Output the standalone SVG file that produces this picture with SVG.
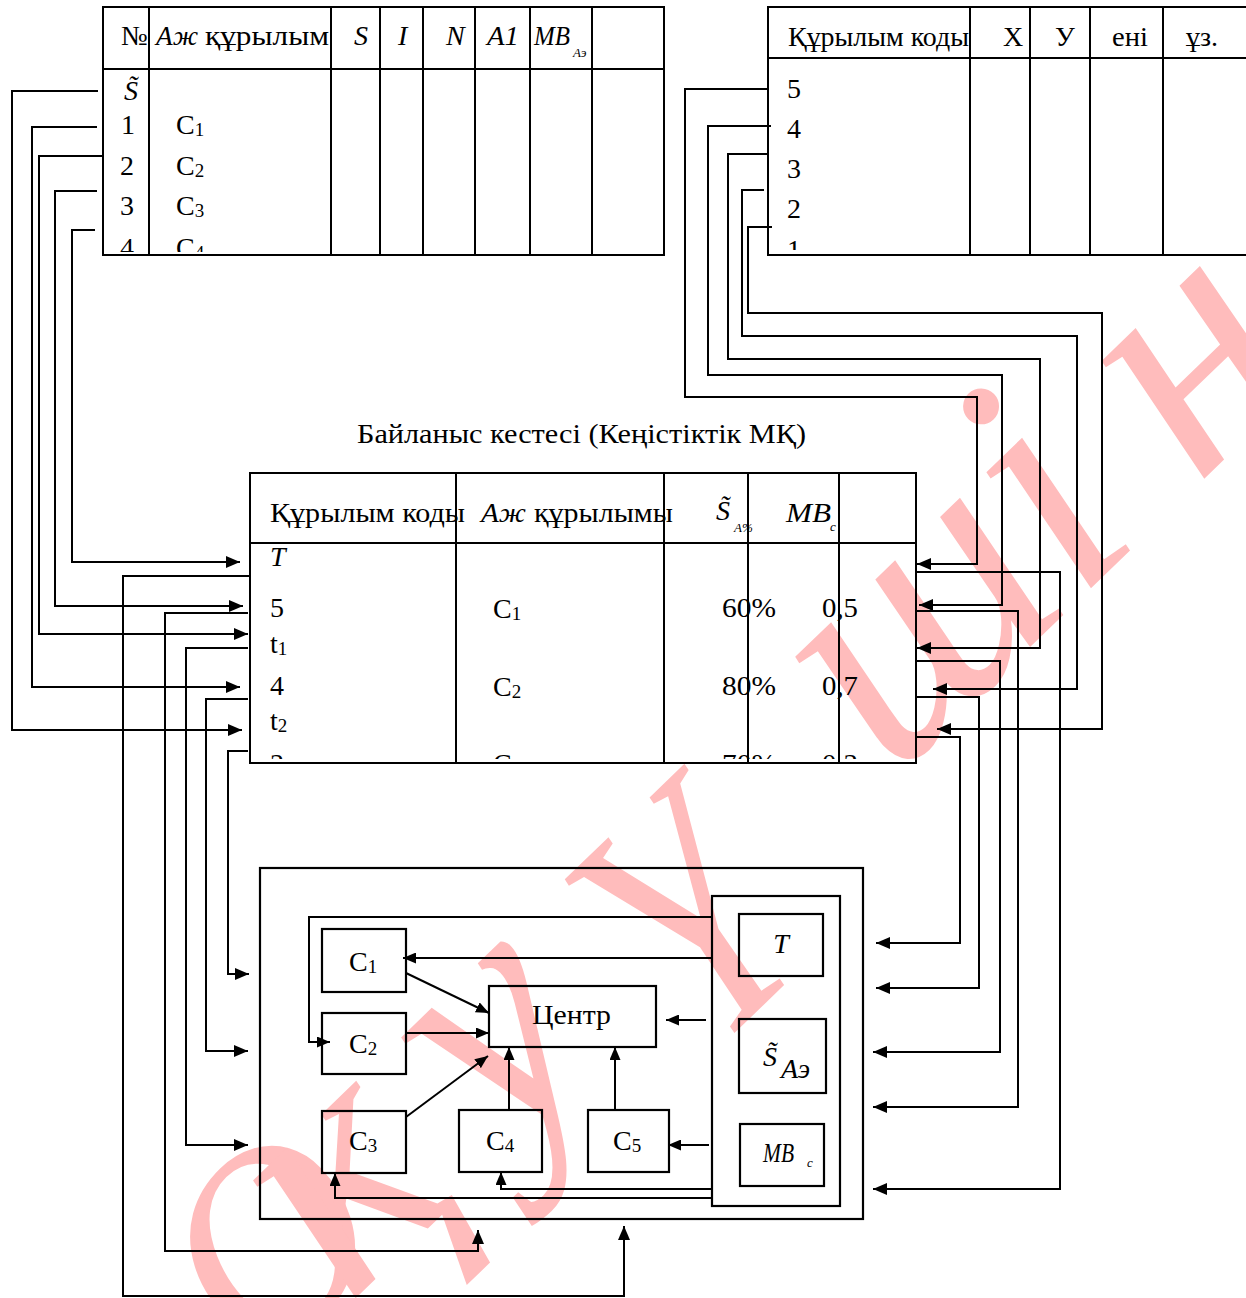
<svg xmlns="http://www.w3.org/2000/svg" width="1246" height="1298" viewBox="0 0 1246 1298">
<style>
.ln{fill:none;stroke:#000;stroke-width:2}
.bx{fill:none;stroke:#000;stroke-width:2.2}
.t{font-family:"Liberation Serif","Times New Roman",serif;font-size:28px;fill:#000}
.i{font-style:italic}
.sm{font-size:19px}
.xs{font-size:13px}
.wm{font-family:"Liberation Serif","Times New Roman",serif;font-style:italic;font-size:340px;fill:#ffbcbc}
</style>
<defs>
<marker id="ah" viewBox="0 0 14 12" refX="14" refY="6" markerWidth="14" markerHeight="12" markerUnits="userSpaceOnUse" orient="auto"><path d="M0,0 L14,6 L0,12 Z" fill="#000"/></marker>
<marker id="as" viewBox="0 0 13 11" refX="13" refY="5.5" markerWidth="13" markerHeight="11" markerUnits="userSpaceOnUse" orient="auto"><path d="M0,0 L13,5.5 L0,11 Z" fill="#000"/></marker>
<clipPath id="cl1"><rect x="103" y="69" width="561" height="183"/></clipPath>
<clipPath id="cl2"><rect x="768" y="58" width="478" height="192"/></clipPath>
<clipPath id="cl3"><rect x="250" y="543" width="666" height="216"/></clipPath>
</defs>
<rect width="1246" height="1298" fill="#fff"/>

<g id="watermark">
<text class="wm" transform="translate(272,1240) rotate(-44)"><tspan x="-100" y="88" font-size="265">О</tspan><tspan x="10 225 376 448 766 1023 1188" y="100">қу үшін</tspan></text>
</g>

<g id="table-params">
<rect class="ln" x="103" y="7" width="561" height="248"/>
<path class="ln" d="M103,69 H664 M149,7 V255 M331,7 V255 M380,7 V255 M423,7 V255 M475,7 V255 M530,7 V255 M592,7 V255"/>
<text class="t" x="121" y="45">№</text>
<text class="t i" x="156" y="45" textLength="42" lengthAdjust="spacingAndGlyphs">Аж</text>
<text class="t" x="205" y="45" textLength="124" lengthAdjust="spacingAndGlyphs">құрылым</text>
<text class="t i" x="354" y="45">S</text>
<text class="t i" x="398" y="45">I</text>
<text class="t i" x="446" y="45">N</text>
<text class="t i" x="487" y="45" textLength="32" lengthAdjust="spacingAndGlyphs">A1</text>
<text class="t i" x="534" y="45" textLength="36" lengthAdjust="spacingAndGlyphs">MB</text>
<text class="t i xs" x="573" y="57">Аэ</text>
<g clip-path="url(#cl1)">
<text class="t i" x="124" y="100">S̃</text>
<text class="t" x="121" y="134">1</text>
<text class="t" x="176" y="134">C<tspan class="sm" dy="2">1</tspan></text>
<text class="t" x="120" y="175">2</text>
<text class="t" x="176" y="175">C<tspan class="sm" dy="2">2</tspan></text>
<text class="t" x="120" y="215">3</text>
<text class="t" x="176" y="215">C<tspan class="sm" dy="2">3</tspan></text>
<text class="t" x="120" y="257">4</text>
<text class="t" x="176" y="257">C<tspan class="sm" dy="2">4</tspan></text>
</g>
</g>

<g id="table-coords">
<rect class="ln" x="768" y="7" width="500" height="248"/>
<path class="ln" d="M768,58 H1246 M970,7 V255 M1030,7 V255 M1090,7 V255 M1163,7 V255"/>
<text class="t" x="788" y="46" textLength="181" lengthAdjust="spacingAndGlyphs">Құрылым коды</text>
<text class="t" x="1003" y="46">X</text>
<text class="t" x="1055" y="46">У</text>
<text class="t" x="1112" y="46" textLength="36" lengthAdjust="spacingAndGlyphs">ені</text>
<text class="t" x="1186" y="46" textLength="32" lengthAdjust="spacingAndGlyphs">ұз.</text>
<g clip-path="url(#cl2)">
<text class="t" x="787" y="98">5</text>
<text class="t" x="787" y="138">4</text>
<text class="t" x="787" y="178">3</text>
<text class="t" x="787" y="218">2</text>
<text class="t" x="787" y="259">1</text>
</g>
</g>

<g id="caption">
<text class="t" x="357" y="443" textLength="449" lengthAdjust="spacingAndGlyphs">Байланыс кестесі (Кеңістіктік МҚ)</text>
</g>

<g id="table-link">
<rect class="ln" x="250" y="473" width="666" height="290"/>
<path class="ln" d="M250,543 H916 M456,473 V763 M664,473 V763 M748,473 V763 M839,473 V763"/>
<text class="t" x="270" y="522" textLength="195" lengthAdjust="spacingAndGlyphs">Құрылым коды</text>
<text class="t i" x="481" y="522" textLength="45" lengthAdjust="spacingAndGlyphs">Аж</text>
<text class="t" x="534" y="522" textLength="139" lengthAdjust="spacingAndGlyphs">құрылымы</text>
<text class="t i" x="716" y="520" font-size="32">S̃</text>
<text class="t i xs" x="734" y="532">A%</text>
<text class="t i" x="786" y="522" font-size="27" textLength="45" lengthAdjust="spacingAndGlyphs">MB</text>
<text class="t i xs" x="830" y="531">c</text>
<g clip-path="url(#cl3)">
<text class="t i" x="270" y="566">T</text>
<text class="t" x="270" y="617">5</text>
<text class="t" x="270" y="653">t<tspan class="sm" dy="2">1</tspan></text>
<text class="t" x="270" y="695">4</text>
<text class="t" x="270" y="730">t<tspan class="sm" dy="2">2</tspan></text>
<text class="t" x="270" y="773">3</text>
<text class="t" x="493" y="618">C<tspan class="sm" dy="2">1</tspan></text>
<text class="t" x="493" y="696">C<tspan class="sm" dy="2">2</tspan></text>
<text class="t" x="493" y="773">C<tspan class="sm" dy="2">3</tspan></text>
<text class="t" x="722" y="617" textLength="54" lengthAdjust="spacingAndGlyphs">60%</text>
<text class="t" x="722" y="695" textLength="54" lengthAdjust="spacingAndGlyphs">80%</text>
<text class="t" x="722" y="773" textLength="54" lengthAdjust="spacingAndGlyphs">70%</text>
<text class="t" x="822" y="617" textLength="36" lengthAdjust="spacingAndGlyphs">0,5</text>
<text class="t" x="822" y="695" textLength="36" lengthAdjust="spacingAndGlyphs">0,7</text>
<text class="t" x="822" y="773" textLength="36" lengthAdjust="spacingAndGlyphs">0,3</text>
</g>
</g>

<g id="system">
<rect class="bx" x="260" y="868" width="603" height="351"/>
<g id="panel"><rect class="bx" x="712" y="896" width="128" height="310"/></g>
<g id="node-T"><rect class="bx" x="739" y="914" width="84" height="62"/><text class="t i" x="781" y="953" text-anchor="middle">T</text></g>
<g id="node-S"><rect class="bx" x="739" y="1019" width="87" height="74"/><text class="t i" x="763" y="1066" font-size="31">S̃</text><text class="t i" x="781" y="1078" font-size="14">Аэ</text></g>
<g id="node-MB"><rect class="bx" x="740" y="1124" width="84" height="62"/><text class="t i" x="763" y="1162" font-size="24" textLength="31" lengthAdjust="spacingAndGlyphs">MB</text><text class="t i xs" x="807" y="1167">c</text></g>
<g id="node-C1"><rect class="bx" x="322" y="929" width="84" height="63"/><text class="t" x="349" y="971">C<tspan class="sm" dy="2">1</tspan></text></g>
<g id="node-C2"><rect class="bx" x="322" y="1013" width="84" height="61"/><text class="t" x="349" y="1053">C<tspan class="sm" dy="2">2</tspan></text></g>
<g id="node-C3"><rect class="bx" x="322" y="1111" width="84" height="62"/><text class="t" x="349" y="1150">C<tspan class="sm" dy="2">3</tspan></text></g>
<g id="node-C4"><rect class="bx" x="459" y="1110" width="83" height="62"/><text class="t" x="486" y="1150">C<tspan class="sm" dy="2">4</tspan></text></g>
<g id="node-C5"><rect class="bx" x="588" y="1110" width="81" height="62"/><text class="t" x="613" y="1150">C<tspan class="sm" dy="2">5</tspan></text></g>
<g id="node-center"><rect class="bx" x="489" y="986" width="167" height="61"/><text class="t" x="532" y="1024" textLength="79" lengthAdjust="spacingAndGlyphs">Центр</text></g>
</g>

<g id="connectors" class="ln">
<path d="M98,91 H12 V730 H242" marker-end="url(#ah)"/>
<path d="M97,127 H32 V687 H240" marker-end="url(#ah)"/>
<path d="M102,156 H39 V634 H248" marker-end="url(#ah)"/>
<path d="M97,191 H55 V606 H243" marker-end="url(#ah)"/>
<path d="M95,230 H72 V562 H240" marker-end="url(#ah)"/>
<path d="M768,89 H685 V397 H977 V564 H917" marker-end="url(#ah)"/>
<path d="M771,126 H708 V375 H1002 V605 H919" marker-end="url(#ah)"/>
<path d="M768,154 H728 V359 H1040 V648 H917" marker-end="url(#ah)"/>
<path d="M764,190 H742 V336 H1077 V689 H933" marker-end="url(#ah)"/>
<path d="M772,227 H748 V313 H1102 V729 H937" marker-end="url(#ah)"/>
<path d="M250,576 H123 V1296 H624 V1226" marker-end="url(#ah)"/>
<path d="M248,613 H165 V1251 H478 V1230" marker-end="url(#ah)"/>
<path d="M248,648 H186 V1145 H248" marker-end="url(#ah)"/>
<path d="M248,699 H206 V1051 H248" marker-end="url(#ah)"/>
<path d="M248,751 H228 V974 H249" marker-end="url(#ah)"/>
<path d="M916,572 H1060 V1189 H873" marker-end="url(#ah)"/>
<path d="M916,611 H1018 V1107 H873" marker-end="url(#ah)"/>
<path d="M916,661 H1000 V1052 H873" marker-end="url(#ah)"/>
<path d="M916,697 H979 V988 H876" marker-end="url(#ah)"/>
<path d="M916,737 H960 V943 H876" marker-end="url(#ah)"/>
<path d="M712,917 H309 V1042 H330" marker-end="url(#as)"/>
<path d="M712,958 H403" marker-end="url(#as)"/>
<path d="M406,973 L489,1013" marker-end="url(#as)"/>
<path d="M406,1033 H489" marker-end="url(#as)"/>
<path d="M406,1117 L488,1056" marker-end="url(#as)"/>
<path d="M509,1110 V1047" marker-end="url(#as)"/>
<path d="M615,1110 V1047" marker-end="url(#as)"/>
<path d="M706,1020 H666" marker-end="url(#as)"/>
<path d="M709,1145 H668" marker-end="url(#as)"/>
<path d="M712,1189 H501 V1172" marker-end="url(#as)"/>
<path d="M712,1198 H335 V1173" marker-end="url(#as)"/>
</g>
</svg>
